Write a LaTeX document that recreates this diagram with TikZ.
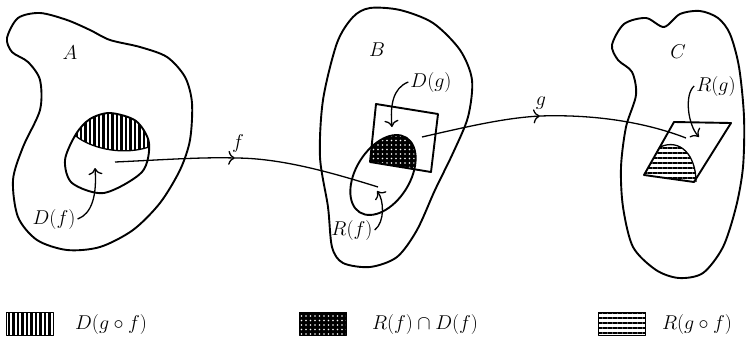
\RequirePackage{fix-cm}
\documentclass[tikz,border=0pt]{standalone}
\usetikzlibrary{patterns.meta, arrows.meta}

\begin{document}
\begin{tikzpicture}[x=1pt, y=-1pt, line join=round, >={To[scale=1.5]},
    font=\fontsize{20}{24}\selectfont,
    every node/.style={inner sep=2pt},
    set/.style={line width=1.9pt},
    thinl/.style={line width=1.3pt},
    vhatch/.style={pattern={Lines[angle=90,distance=4.5pt,line width=2.2pt]}},
    hhatch/.style={pattern={Lines[angle=0,distance=5pt,line width=2.6pt]}},
    darkdots/.style={preaction={fill=black}, pattern={Dots[distance=4.5pt,radius=0.8pt]}, pattern color=white},
    key/.style={draw, line width=1pt, minimum width=47pt, minimum height=23pt, inner sep=0pt}]
    \useasboundingbox (0,0) rectangle (746,343);

    \def\ovalA{plot[smooth cycle] coordinates {(110,113) (136,121) (149,143) (142,172) (104,193) (72,183) (65,160) (76,134) (90,119)}}

    % the three sets
    \draw[set] plot[smooth cycle] coordinates {(7,38) (18,18) (40,13) (67,20) (90,30) (110,40) (140,47) (167,57) (185,77) (192,103) (190,140) (180,170) (160,203) (133,230) (100,247) (67,250) (37,240) (18,217) (13,180) (23,147) (40,110) (40,80) (28,62) (12,52)};
    \draw[set] plot[smooth cycle] coordinates {(370,8) (400,10) (433,23) (460,50) (472,80) (468,117) (453,153) (435,190) (417,230) (397,257) (370,267) (343,263) (332,247) (328,207) (320,157) (323,100) (337,43) (353,17)};
    \draw[set] plot[smooth cycle] coordinates {(612,45) (624,24) (646,18) (664,27) (680,14) (700,11) (718,18) (730,34) (739,67) (744,117) (743,167) (736,207) (723,247) (703,273) (679,278) (656,270) (633,247) (623,207) (621,167) (626,127) (636,95) (632,72) (618,60)};

    \node (A) at (70,53) {$A$};
    \node (B) at (377,50) {$B$};
    \node (C) at (678,52) {$C$};

    % D(f) with D(g o f) hatched
    \begin{scope}
        \clip \ovalA;
        \fill[vhatch] (60,100) -- (60,137) -- (77,137) .. controls (95,150) and (125,155) .. (149,147) -- (160,147) -- (160,100) -- cycle;
    \end{scope}
    \draw[thinl] (77,137) .. controls (95,150) and (125,155) .. (149,147);
    \draw[set] \ovalA;

    % D(g) and R(f)
    \coordinate (q1) at (376,104);
    \coordinate (q2) at (438,114);
    \coordinate (q3) at (431,172);
    \coordinate (q4) at (370,162);
    \begin{scope}
        \clip (q1) -- (q2) -- (q3) -- (q4) -- cycle;
        \fill[darkdots, rotate around={58:(383,175)}] (383,175) ellipse [x radius=44, y radius=27];
    \end{scope}
    \draw[set] (q1) -- (q2) -- (q3) -- (q4) -- cycle;
    \draw[set, rotate around={58:(383,175)}] (383,175) ellipse [x radius=44, y radius=27];

    % R(g) with R(g o f) hatched
    \coordinate (p1) at (674,122);
    \coordinate (p2) at (731,123);
    \coordinate (p3) at (694,182);
    \coordinate (p4) at (644,175);
    \begin{scope}
        \clip (p1) -- (p2) -- (p3) -- (p4) -- cycle;
        \fill[hhatch] (630,140) -- (660,147) .. controls (680,138) and (696,155) .. (696,186) -- (630,186) -- cycle;
    \end{scope}
    \draw[thinl] (660,147) .. controls (680,138) and (696,155) .. (696,182);
    \draw[set] (p1) -- (p2) -- (p3) -- (p4) -- cycle;

    % the maps f and g
    \coordinate (fs) at (115,162);
    \coordinate (fm) at (235,158);
    \coordinate (fe) at (378,187);
    \draw[thinl,->] (fs) .. controls (160,160) and (200,157) .. (fm);
    \draw[thinl] (fm) .. controls (280,158) and (330,172) .. (fe);
    \node (f) at (238,143) {$f$};

    \coordinate (gs) at (422,137);
    \coordinate (gm) at (540,116);
    \coordinate (ge) at (686,138);
    \draw[thinl,->] (gs) .. controls (470,126) and (505,118) .. (gm);
    \draw[thinl] (gm) .. controls (600,114) and (650,124) .. (ge);
    \node (g) at (541,103) {$g$};

    % labels with their small arrows
    \node (Df) at (54,219) {$D(f)$};
    \coordinate (tDf) at (95,168);
    \draw[thinl,->] (Df.east) .. controls (92,214) and (97,195) .. (tDf);

    \node (Rf) at (352,230) {$R(f)$};
    \coordinate (tRf) at (377,191);
    \draw[thinl,->] (Rf.east) .. controls (385,222) and (384,200) .. (tRf);

    \node (Dg) at (431,82) {$D(g)$};
    \coordinate (tDg) at (392,127);
    \draw[thinl,->] (Dg.west) .. controls (393,88) and (390,105) .. (tDg);

    \node (Rg) at (716,86) {$R(g)$};
    \coordinate (tRg) at (699,137);
    \draw[thinl,->] (Rg.west) .. controls (684,95) and (688,125) .. (tRg);

    % key
    \node[key, vhatch] (k1) at (29.5,323.5) {};
    \node (l1) at (111,324) {$D(g\circ f)$};
    \node[key, darkdots] (k2) at (323,323.5) {};
    \node (l2) at (425,324) {$R(f)\cap D(f)$};
    \node[key, hhatch] (k3) at (622,323.5) {};
    \node (l3) at (697,324) {$R(g\circ f)$};
\end{tikzpicture}
\end{document}
